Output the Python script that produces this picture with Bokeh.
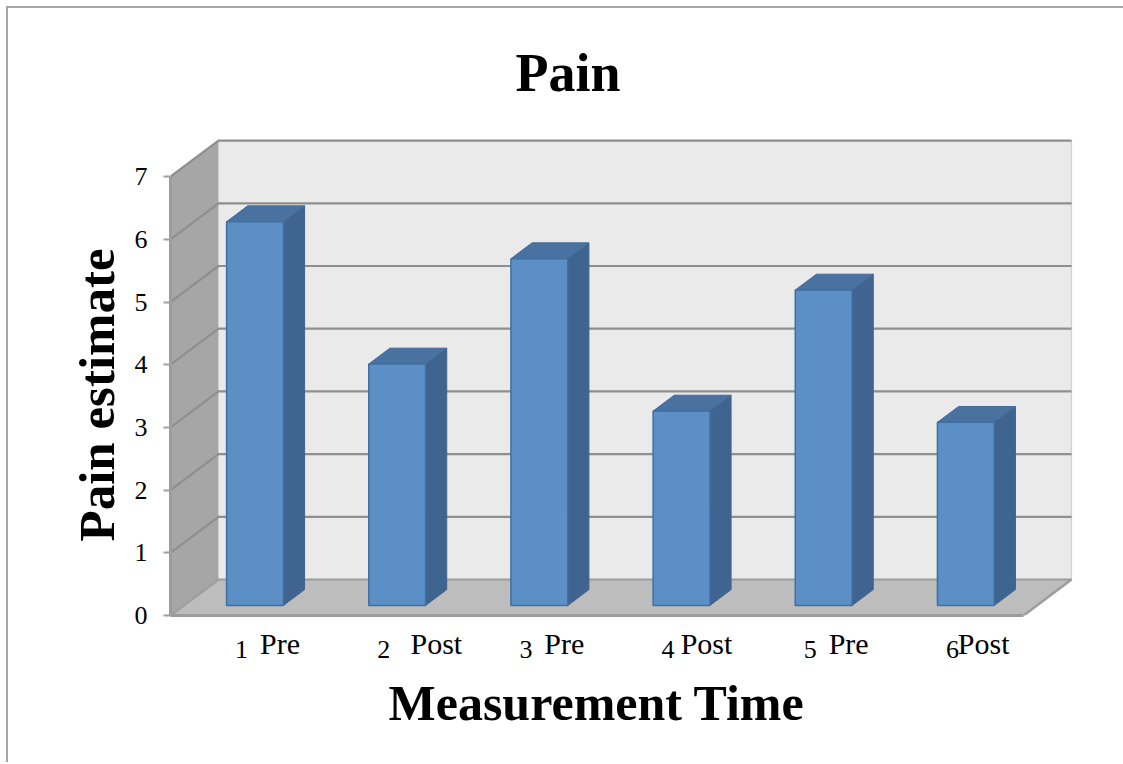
from bokeh.plotting import figure
from bokeh.models import Range1d, FixedTicker, Title, LinearAxis
from bokeh.embed import file_html
from bokeh.resources import INLINE

positions = [1, 2, 3, 4, 5, 6]
pain = [6.12, 3.85, 5.53, 3.10, 5.03, 2.92]
phase = ["Pre", "Post", "Pre", "Post", "Pre", "Post"]
phase_shift = [0.27, 0.37, 0.27, 0.27, 0.27, 0.22]
y_ticks = [0, 1, 2, 3, 4, 5, 6, 7]

TITLE_FONT = "Liberation Serif"
PX_X = 142.17      # pixels per category
PX_Y = 62.7        # pixels per value unit
DX = 48 / PX_X     # full depth in x units
DY = 36 / PX_Y     # full depth in y units
X0, X1 = 0.5, 6.5
Y1 = 7
BAR_W = 0.4
D0, D1 = 0.28, 0.72


def pr(x, y, d):
    return x + d * DX, y + d * DY


def poly(pts):
    out = [pr(*q) for q in pts]
    return [a for a, _ in out], [b for _, b in out]


p = figure(
    width=1115, height=756, output_backend="svg", toolbar_location=None,
    margin=(8, 0, 0, 8),
    x_range=Range1d(X0, X0 + 902 / PX_X), y_range=Range1d(0, 478 / PX_Y),
    min_border_left=162, min_border_right=51, min_border_top=129, min_border_bottom=149,
    background_fill_color="white", border_fill_color="white", outline_line_color=None,
    styles={"box-shadow": "-2px -2px 0 0 #a6a6a6, 2px -2px 0 0 #a6a6a6"},
)
p.grid.visible = False

p.add_layout(Title(text="Pain", align="left", vertical_align="top", offset=345, standoff=65,
                   text_font=TITLE_FONT, text_font_size="54px", text_font_style="bold",
                   text_color="black"), "above")
p.add_layout(Title(text="Pain estimate", align="left", offset=74, standoff=14,
                   text_font=TITLE_FONT, text_font_size="51px", text_font_style="bold",
                   text_color="black"), "left")

# walls and floor
xs, ys = poly([(X0, 0, 1), (X1, 0, 1), (X1, Y1, 1), (X0, Y1, 1)])
p.patch(xs, ys, fill_color="#eaeaea", line_color=None)
xs, ys = poly([(X0, 0, 0), (X0, 0, 1), (X0, Y1, 1), (X0, Y1, 0)])
p.patch(xs, ys, fill_color="#a6a6a6", line_color=None)
xs, ys = poly([(X0, 0, 0), (X1, 0, 0), (X1, 0, 1), (X0, 0, 1)])
p.patch(xs, ys, fill_color="#bdbdbd", line_color=None)

# right wall edge
xs, ys = poly([(X1, 0, 1), (X1, Y1, 1)])
p.line(xs, ys, line_color="#d2d2d2", line_width=1.5)

# gridlines
for v in y_ticks:
    xs, ys = poly([(X0, v, 0), (X0, v, 1), (X1, v, 1)])
    p.line(xs, ys, line_color="#8f8f8f" if v else "#9c9c9c", line_width=2.2)
xs, ys = poly([(X0, 0, 0), (X0, 0, 1)])
p.line(xs, ys, line_color="#a0a0a0", line_width=2)
xs, ys = poly([(X1, 0, 0), (X1, 0, 1)])
p.line(xs, ys, line_color="#9c9c9c", line_width=2.5)

# bars
for c, v in zip(positions, pain):
    l, r = c - BAR_W / 2, c + BAR_W / 2
    xs, ys = poly([(r, 0, D0), (r, 0, D1), (r, v, D1), (r, v, D0)])
    p.patch(xs, ys, fill_color="#3f648f", line_color="#3f648f", line_width=1)
    xs, ys = poly([(l, v, D0), (r, v, D0), (r, v, D1), (l, v, D1)])
    p.patch(xs, ys, fill_color="#4a72a0", line_color="#44699a", line_width=1)
    xs, ys = poly([(l, 0, D0), (r, 0, D0), (r, v, D0), (l, v, D0)])
    p.patch(xs, ys, fill_color="#5b8fc6", line_color="#3f6fa3", line_width=1.5)

# axes
ax = p.xaxis[0]
ax.ticker = FixedTicker(ticks=positions)
ax.bounds = (X0, X1)
ax.major_label_text_font = TITLE_FONT
ax.major_label_text_font_size = "26px"
ax.major_label_text_color = "black"
ax.major_label_standoff = 25
ax.major_tick_line_color = None
ax.minor_tick_line_color = None
ax.major_tick_out = 0
ax.major_tick_in = 0
ax.axis_line_color = "#9c9c9c"
ax.axis_line_width = 3

# Pre / Post labels: a second bottom axis that overlaps the first
phase_ticks = [round(c + s, 2) for c, s in zip(positions, phase_shift)]
ax2 = LinearAxis(
    ticker=FixedTicker(ticks=phase_ticks),
    major_label_overrides=dict(zip(phase_ticks, phase)),
    major_label_text_font=TITLE_FONT, major_label_text_font_size="30px",
    major_label_text_color="black", major_label_standoff=-34,
    major_tick_line_color=None, minor_tick_line_color=None,
    major_tick_in=0, major_tick_out=0, axis_line_color=None,
)
p.add_layout(ax2, "below")

p.add_layout(Title(text="Measurement Time", align="left", offset=218, standoff=20,
                   text_font=TITLE_FONT, text_font_size="50px", text_font_style="bold",
                   text_color="black"), "below")

ay = p.yaxis[0]
ay.ticker = FixedTicker(ticks=y_ticks)
ay.bounds = (0, Y1)
ay.major_label_text_font = TITLE_FONT
ay.major_label_text_font_size = "26px"
ay.major_label_text_color = "black"
ay.major_label_standoff = 16
ay.major_label_orientation = "horizontal"
ay.major_tick_out = 7
ay.major_tick_in = 0
ay.major_tick_line_color = "#a0a0a0"
ay.major_tick_line_width = 2
ay.minor_tick_line_color = None
ay.axis_line_color = "#9c9c9c"
ay.axis_line_width = 3

open("out.html", "w").write(file_html(p, INLINE))
